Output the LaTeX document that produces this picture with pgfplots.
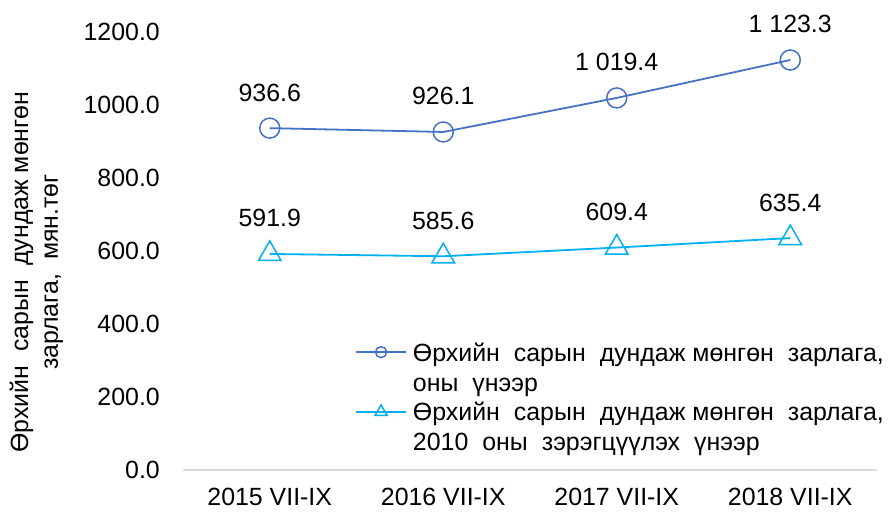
\documentclass[border=0pt]{standalone}
\usepackage{fontspec}
\setmainfont{Liberation Sans}
\usepackage{pgfplots}
\pgfplotsset{compat=1.18}
\definecolor{c1}{HTML}{4472C4}
\definecolor{c2}{HTML}{00B0F0}
\definecolor{axgray}{HTML}{D9D9D9}
\newcommand\W{\hspace{14bp}}
\begin{document}
\fontsize{25}{30}\selectfont
\begin{tikzpicture}
\useasboundingbox (0bp,0bp) rectangle (894bp,513bp);
\begin{axis}[
  at={(183bp,43bp)}, anchor=south west,
  scale only axis, width=694bp, height=438bp,
  xmin=-0.5, xmax=3.5, ymin=0, ymax=1200,
  axis line style={draw=none}, tick style={draw=none},
  xtick={0,1,2,3},
  xticklabels={2015 VII-IX, 2016 VII-IX, 2017 VII-IX, 2018 VII-IX},
  ytick={0,200,400,600,800,1000,1200},
  yticklabels={0.0,200.0,400.0,600.0,800.0,1000.0,1200.0},
  yticklabel style={inner sep=0pt, xshift=-23bp},
  xticklabel style={inner sep=0pt, yshift=-18bp},
  ylabel={\begin{tabular}{@{}c@{}}Өрхийн\W сарын\W дундаж мөнгөн\\зарлага,\W мян.төг\end{tabular}},
  ylabel style={at={(axis description cs:-0.2104,0.452)}, anchor=center},
  clip=false,
  nodes near coords, point meta=explicit symbolic,
  every node near coord/.append style={anchor=south, inner sep=0pt, yshift=26bp, text=black},
  legend image code/.code={\draw[mark repeat=2,mark phase=2,#1] plot coordinates {(0bp,9bp) (25bp,9bp) (50bp,9bp)};},
  legend style={draw=none, fill=none, inner sep=0pt, at={(axis description cs:0.2478,0.2968)}, anchor=north west,
    column sep=6bp, row sep=0pt, nodes={inner sep=0pt, text depth=}, cells={anchor=base west}},
]
\draw[axgray, line width=1.3bp] (rel axis cs:0,0) -- (rel axis cs:1,0);
\addplot[c1, line width=1.8bp, mark=o, mark size=10bp, mark options={fill=white, line width=1.5bp}, legend image post style={mark size=5.5bp}]
  coordinates {(0,936.6) [936.6] (1,926.1) [926.1] (2,1019.4) [1 019.4] (3,1123.3) [1 123.3]};
\addlegendentry{\begin{tabular}[t]{@{}l@{}}Өрхийн\W сарын\W дундаж мөнгөн\W зарлага,\\оны\W үнээр\end{tabular}}
\addplot[c2, line width=1.8bp, mark=triangle, mark size=13bp, mark options={fill=white, line width=1.5bp}, legend image post style={mark size=7bp}]
  coordinates {(0,591.9) [591.9] (1,585.6) [585.6] (2,609.4) [609.4] (3,635.4) [635.4]};
\addlegendentry{\begin{tabular}[t]{@{}l@{}}Өрхийн\W сарын\W дундаж мөнгөн\W зарлага,\\2010\W оны\W зэрэгцүүлэх\W үнээр\end{tabular}}
\end{axis}
\end{tikzpicture}
\end{document}
